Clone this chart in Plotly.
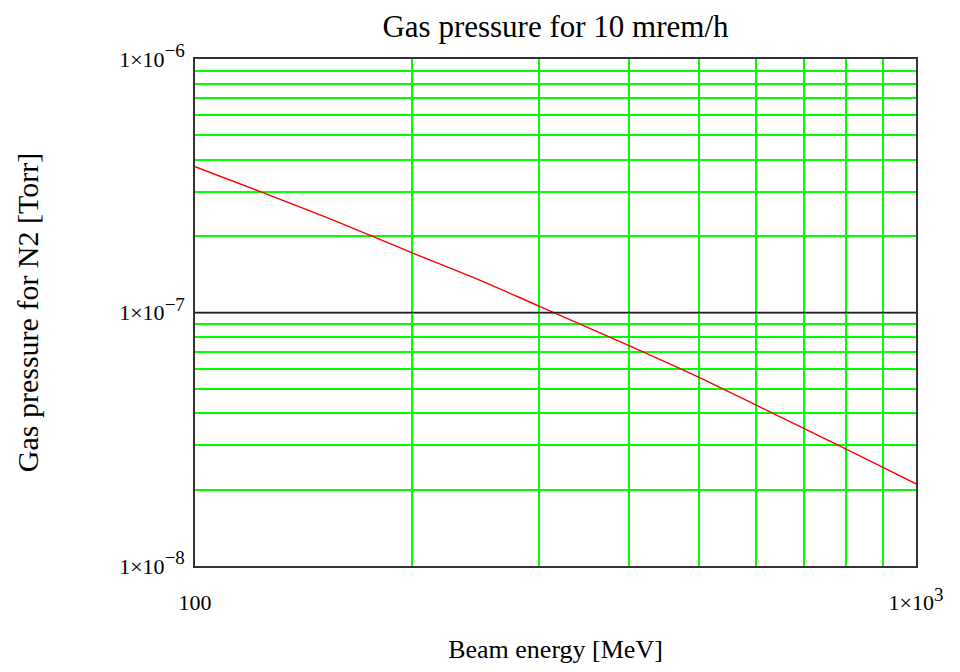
import plotly.graph_objects as go

# Data
beam_energy_mev = [100, 150, 200, 250, 300, 400, 500, 600, 700, 800, 900, 1000]
pressure_n2_torr = [3.76e-7, 2.41e-7, 1.72e-7, 1.33e-7, 1.06e-7, 7.40e-8, 5.55e-8,
                    4.31e-8, 3.48e-8, 2.89e-8, 2.45e-8, 2.11e-8]

x_grid_vals = [100, 200, 300, 400, 500, 600, 700, 800, 900, 1000]
y_grid_vals = [1e-8, 2e-8, 3e-8, 4e-8, 5e-8, 6e-8, 7e-8, 8e-8, 9e-8,
               1e-7, 2e-7, 3e-7, 4e-7, 5e-7, 6e-7, 7e-7, 8e-7, 9e-7, 1e-6]

SUP = '<sup><span style="font-size:19px">{}</span></sup>'
x_tick_text = ["100", "", "", "", "", "", "", "", "", "1×10" + SUP.format("3")]
y_tick_text = (["1×10" + SUP.format("−8")] + [""] * 8 + ["1×10" + SUP.format("−7")]
               + [""] * 8 + ["1×10" + SUP.format("−6")])

ref_level = 1e-7

FONT = "Liberation Serif"
GREEN = "#00ff00"

fig = go.Figure()
fig.add_shape(type="line", xref="paper", x0=0, x1=1, yref="y", y0=ref_level, y1=ref_level,
              line=dict(color="#222222", width=1.5), layer="above")
fig.add_trace(go.Scatter(
    x=beam_energy_mev, y=pressure_n2_torr, mode="lines",
    line=dict(color="#ff0000", width=1.4, shape="spline"),
    showlegend=False, hoverinfo="skip",
))

fig.update_layout(
    width=960, height=672,
    paper_bgcolor="white", plot_bgcolor="white",
    margin=dict(l=187, r=52, t=51, b=114, autoexpand=False),
    title=dict(text="Gas pressure for 10 mrem/h", x=(187 + 908) / 2 / 960, xanchor="center",
               y=1 - 18 / 672, yanchor="middle",
               font=dict(family=FONT, size=31, color="black")),
    font=dict(family=FONT, color="black"),
)

fig.update_xaxes(
    type="log", range=[2, 3],
    tickmode="array", tickvals=x_grid_vals, ticktext=x_tick_text,
    showgrid=True, gridcolor=GREEN, gridwidth=1.5,
    showline=True, mirror=True, linecolor="#333333", linewidth=1.5,
    ticks="outside", ticklen=16, tickcolor="rgba(0,0,0,0)",
    tickfont=dict(family=FONT, size=22, color="black"),
    zeroline=False,
    title=dict(text="Beam energy [MeV]", font=dict(family=FONT, size=26, color="black"), standoff=26),
)
fig.update_yaxes(
    type="log", range=[-8, -6],
    tickmode="array", tickvals=y_grid_vals, ticktext=y_tick_text,
    showgrid=True, gridcolor=GREEN, gridwidth=1.5,
    showline=True, mirror=True, linecolor="#333333", linewidth=1.5,
    ticks="outside", ticklen=4, tickcolor="rgba(0,0,0,0)",
    tickfont=dict(family=FONT, size=22, color="black"),
    zeroline=False,
    title=dict(text="Gas pressure for N2 [Torr]", font=dict(family=FONT, size=30, color="black"), standoff=72),
)

fig.write_html("out.html")
